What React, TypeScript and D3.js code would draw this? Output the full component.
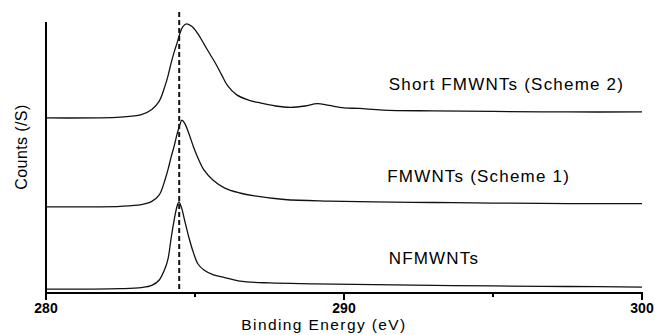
import React, { useRef, useEffect } from 'react'
import * as d3 from 'd3'

// Binding energy (eV) sample points and intensities (arb. units, offset stacked)
const nfEnergy = [280, 282.5, 283.2, 283.55, 283.8, 284.0, 284.1, 284.2, 284.3, 284.4, 284.46, 284.55, 284.65, 284.8, 284.95, 285.1, 285.3, 285.6, 286.0, 286.5, 287.5, 289, 291, 293, 295, 297.5, 300]
const nfCounts = [0.14, 0.16, 0.2, 0.28, 0.48, 0.92, 1.29, 2.03, 2.69, 3.21, 3.36, 3.14, 2.69, 2.03, 1.48, 1.07, 0.85, 0.68, 0.57, 0.44, 0.37, 0.34, 0.31, 0.28, 0.26, 0.24, 0.22]

const fEnergy = [280, 282.5, 283.2, 283.55, 283.8, 284.0, 284.1, 284.2, 284.3, 284.4, 284.5, 284.56, 284.65, 284.8, 284.95, 285.1, 285.3, 285.6, 286.0, 286.5, 287.0, 288.0, 289.5, 291, 293, 295, 297.5, 300]
const fCounts = [3.18, 3.2, 3.26, 3.38, 3.62, 4.2, 4.58, 5.02, 5.42, 5.87, 6.24, 6.38, 6.27, 5.87, 5.39, 4.98, 4.54, 4.17, 3.87, 3.69, 3.58, 3.45, 3.39, 3.36, 3.34, 3.32, 3.30, 3.30]

const sEnergy = [280, 282.5, 283.2, 283.55, 283.8, 284.0, 284.1, 284.2, 284.3, 284.4, 284.5, 284.6, 284.72, 284.9, 285.1, 285.3, 285.5, 285.7, 285.9, 286.1, 286.4, 286.8, 287.2, 287.7, 288.2, 288.7, 289.1, 289.5, 290, 290.5, 291.3, 293, 295, 297.5, 300]
const sCounts = [6.46, 6.49, 6.58, 6.77, 7.08, 7.66, 8.04, 8.49, 8.89, 9.23, 9.6, 9.84, 9.93, 9.83, 9.56, 9.19, 8.82, 8.45, 8.04, 7.64, 7.31, 7.12, 7.01, 6.90, 6.85, 6.90, 6.99, 6.92, 6.83, 6.81, 6.75, 6.72, 6.70, 6.68, 6.68]

const seriesNames = ['NFMWNTs', 'FMWNTs (Scheme 1)', 'Short FMWNTs (Scheme 2)']
const labelEnergy = [291.5, 291.45, 291.5]
const labelCounts = [1.07, 4.1, 7.49]

const xTicks = [280, 290, 300]
const xMinorTicks = [285, 295]
const refEnergy = 284.47

const W = 655
const H = 335

export default function App() {
  const svgRef = useRef<SVGSVGElement>(null)

  useEffect(() => {
    if (!svgRef.current) return
    const svg = d3.select(svgRef.current)
    svg.selectAll('*').remove()

    const margin = { top: 22, right: 13, bottom: 42, left: 46 }
    const x = d3.scaleLinear().domain([280, 300]).range([margin.left, W - margin.right])
    const y = d3.scaleLinear().domain([0, 10]).range([H - margin.bottom, margin.top])

    const font = 'Arial, "Liberation Sans", sans-serif'

    const line = d3.line<[number, number]>()
      .x(d => x(d[0]))
      .y(d => y(d[1]))
      .curve(d3.curveCatmullRom.alpha(0.5))

    const series: [number, number][][] = [
      nfEnergy.map((e, i) => [e, nfCounts[i]]),
      fEnergy.map((e, i) => [e, fCounts[i]]),
      sEnergy.map((e, i) => [e, sCounts[i]]),
    ]

    series.forEach(s => {
      svg.append('path')
        .attr('d', line(s))
        .attr('fill', 'none')
        .attr('stroke', '#111')
        .attr('stroke-width', 1.3)
    })

    // reference dashed line
    svg.append('line')
      .attr('x1', x(refEnergy)).attr('x2', x(refEnergy))
      .attr('y1', 12).attr('y2', y(0))
      .attr('stroke', '#111')
      .attr('stroke-width', 2)
      .attr('stroke-dasharray', '5,3')

    // axes
    svg.append('line')
      .attr('x1', x(280)).attr('x2', x(280))
      .attr('y1', margin.top).attr('y2', y(0) + 1)
      .attr('stroke', '#000').attr('stroke-width', 2)
    svg.append('line')
      .attr('x1', x(280) - 1).attr('x2', x(300) + 1)
      .attr('y1', y(0)).attr('y2', y(0))
      .attr('stroke', '#000').attr('stroke-width', 2)

    svg.selectAll('.major')
      .data(xTicks)
      .enter().append('line')
      .attr('x1', d => x(d)).attr('x2', d => x(d))
      .attr('y1', y(0)).attr('y2', y(0) + 7)
      .attr('stroke', '#000').attr('stroke-width', 2)

    svg.selectAll('.minor')
      .data(xMinorTicks)
      .enter().append('line')
      .attr('x1', d => x(d)).attr('x2', d => x(d))
      .attr('y1', y(0)).attr('y2', y(0) + 4)
      .attr('stroke', '#000').attr('stroke-width', 2)

    svg.selectAll('.tlabel')
      .data(xTicks)
      .enter().append('text')
      .attr('x', d => x(d))
      .attr('y', 313)
      .attr('text-anchor', 'middle')
      .style('font-family', font)
      .style('font-size', '14px')
      .style('font-weight', 'bold')
      .text(d => d)

    svg.append('text')
      .attr('x', x(290) - 20)
      .attr('y', 330)
      .attr('text-anchor', 'middle')
      .style('font-family', font)
      .style('font-size', '15.5px')
      .style('letter-spacing', '1.4px')
      .text('Binding Energy (eV)')

    svg.append('text')
      .attr('transform', `translate(27, 147) rotate(-90)`)
      .attr('text-anchor', 'middle')
      .style('font-family', font)
      .style('font-size', '16px')
      .style('letter-spacing', '0.4px')
      .text('Counts (/S)')

    // series labels
    svg.selectAll('.slabel')
      .data(seriesNames)
      .enter().append('text')
      .attr('x', (d, i) => x(labelEnergy[i]))
      .attr('y', (d, i) => y(labelCounts[i]))
      .style('font-family', font)
      .style('font-size', '17px')
      .style('letter-spacing', '1.2px')
      .text(d => d)
  }, [])

  return (
    <svg
      ref={svgRef}
      width={W}
      height={H}
      style={{ position: 'absolute', left: 0, top: 0, background: '#fff' }}
    />
  )
}
